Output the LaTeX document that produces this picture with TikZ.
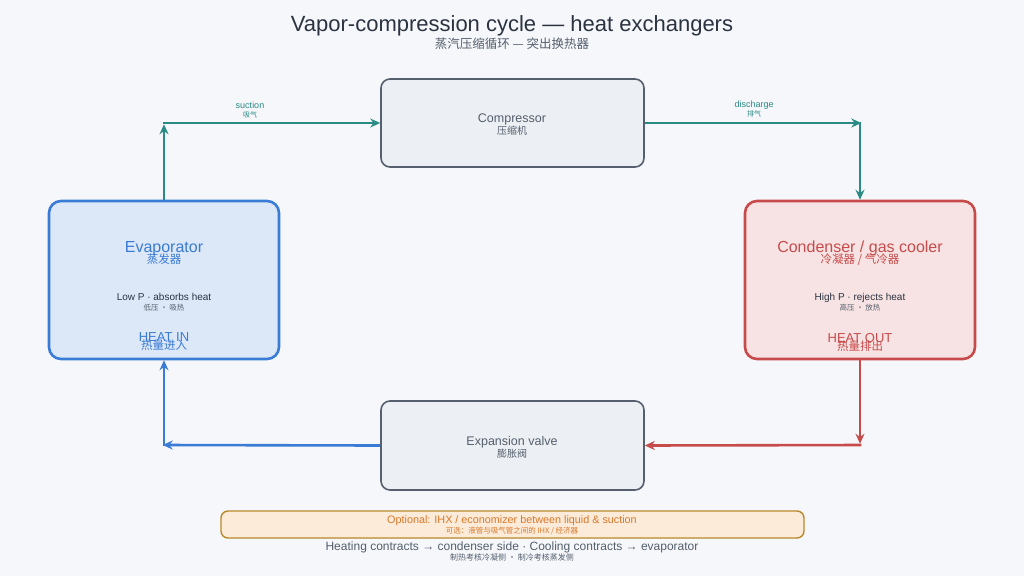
\documentclass[tikz,border=0pt]{standalone}
\usepackage{fontspec}
\setmainfont{Liberation Sans}
\newfontfamily\cjk{Noto Sans CJK SC}
\usetikzlibrary{arrows.meta}
\definecolor{bg}{HTML}{F5F7FA}
\definecolor{teal}{HTML}{2A8A84}
\definecolor{blu}{HTML}{3A7BD5}
\definecolor{rd}{HTML}{C84B4B}
\definecolor{gs}{HTML}{555F6D}
\definecolor{gf}{HTML}{ECEFF3}
\definecolor{ef}{HTML}{DCE8F7}
\definecolor{cf}{HTML}{F7E3E3}
\definecolor{of}{HTML}{FCEBD9}
\definecolor{os}{HTML}{B8892A}
\definecolor{ot}{HTML}{D9782A}
\definecolor{tx}{HTML}{2B3340}
\begin{document}
\begin{tikzpicture}[x=1pt,y=-1pt,
 box/.style={draw=gs,fill=gf,line width=1.6pt,rounded corners=9pt,inner sep=0pt},
 big/.style={line width=2.6pt,rounded corners=12pt,inner sep=0pt},
 arr/.style={line width=2.6pt,line cap=butt,-{Stealth[length=10pt,width=9pt]}},
 lbl/.style={text=teal,align=center},
 txt/.style={inner sep=0pt,align=center}]
\fill[bg] (0,0) rectangle (1024,576);
\useasboundingbox (0,0) rectangle (1024,576);
\node[txt,text=tx] (t1) at (512,26) {\fontsize{22}{22}\selectfont Vapor-compression cycle — heat exchangers};
\node[txt,text=gs] (t2) at (512,44) {\fontsize{12.5}{12.5}\selectfont\cjk 蒸汽压缩循环 — 突出换热器};
\node[box,minimum width=263pt,minimum height=88pt] (comp) at (512.5,123) {};
\node[txt,text=gs] (compt) at (512,125) {\fontsize{12.5}{12.5}\selectfont Compressor\\[0pt]\fontsize{10}{10}\selectfont\cjk 压缩机};
\node[box,minimum width=263pt,minimum height=89pt] (exp) at (512.5,445.5) {};
\node[txt,text=gs] (expt) at (512,447) {\fontsize{12.5}{12.5}\selectfont Expansion valve\\[0pt]\fontsize{10}{10}\selectfont\cjk 膨胀阀};
\node[big,draw=blu,fill=ef,minimum width=230pt,minimum height=158pt] (evap) at (164,280) {};
\node[txt,text=blu] (evt) at (164,253) {\fontsize{16}{16}\selectfont Evaporator\\[-3pt]\fontsize{11.5}{11.5}\selectfont\cjk 蒸发器};
\node[txt,text=tx] (evs) at (164,302) {\fontsize{10}{10}\selectfont Low P · absorbs heat\\[-2pt]\fontsize{7.5}{7.5}\selectfont\cjk\color{gs}低压 · 吸热};
\node[txt,text=blu] (evh) at (164,342) {\fontsize{13}{13}\selectfont HEAT IN\\[-4pt]\fontsize{11.5}{11.5}\selectfont\cjk 热量进入};
\node[big,draw=rd,fill=cf,minimum width=230pt,minimum height=158pt] (cond) at (860,280) {};
\node[txt,text=rd] (cdt) at (860,253) {\fontsize{16}{16}\selectfont Condenser / gas cooler\\[-3pt]\fontsize{11.5}{11.5}\selectfont\cjk 冷凝器 / 气冷器};
\node[txt,text=tx] (cds) at (860,302) {\fontsize{10}{10}\selectfont High P · rejects heat\\[-2pt]\fontsize{7.5}{7.5}\selectfont\cjk\color{gs}高压 · 放热};
\node[txt,text=rd] (cdh) at (860,342) {\fontsize{13}{13}\selectfont HEAT OUT\\[-4pt]\fontsize{11.5}{11.5}\selectfont\cjk 热量排出};
\coordinate (c1) at (164,123);
\coordinate (c2) at (860,123);
\coordinate (c3) at (860,445);
\coordinate (c4) at (164,445);
\draw[arr,teal] (evap.north) -- ([yshift=-1.3pt]c1);
\draw[arr,teal] ([xshift=-1.3pt]c1) -- (comp.west);
\draw[arr,teal] (comp.east) -- ([xshift=1.3pt]c2);
\draw[arr,teal] ([yshift=1.3pt]c2) -- (cond.north);
\draw[arr,rd] (cond.south) -- ([yshift=1.3pt]c3);
\draw[arr,rd] ([xshift=1.3pt]c3) -- (exp.east);
\draw[arr,blu] (exp.west) -- ([xshift=-1.3pt]c4);
\draw[arr,blu] ([yshift=-1.3pt]c4) -- (evap.south);
\node[lbl,inner sep=0pt] (ls) at (250,110) {\fontsize{9}{9}\selectfont suction\\[-3pt]\fontsize{7}{7}\selectfont\cjk 吸气};
\node[lbl,inner sep=0pt] (ld) at (754,109) {\fontsize{9}{9}\selectfont discharge\\[-3pt]\fontsize{7}{7}\selectfont\cjk 排气};
\node[draw=os,fill=of,line width=1.4pt,rounded corners=7pt,minimum width=583pt,minimum height=27pt,inner sep=0pt] (opt) at (512.5,524.5) {};
\node[txt,text=ot] (optt) at (512,525) {\fontsize{10.8}{10.8}\selectfont Optional: IHX / economizer between liquid \& suction\\[-2pt]\fontsize{7.5}{7.5}\selectfont\cjk 可选：液管与吸气管之间的 IHX / 经济器};
\node[txt,text=gs] (foot) at (512,551) {\fontsize{12}{12}\selectfont Heating contracts → condenser side · Cooling contracts → evaporator\\[-2pt]\fontsize{8}{8}\selectfont\cjk 制热考核冷凝侧 · 制冷考核蒸发侧};
\end{tikzpicture}
\end{document}
